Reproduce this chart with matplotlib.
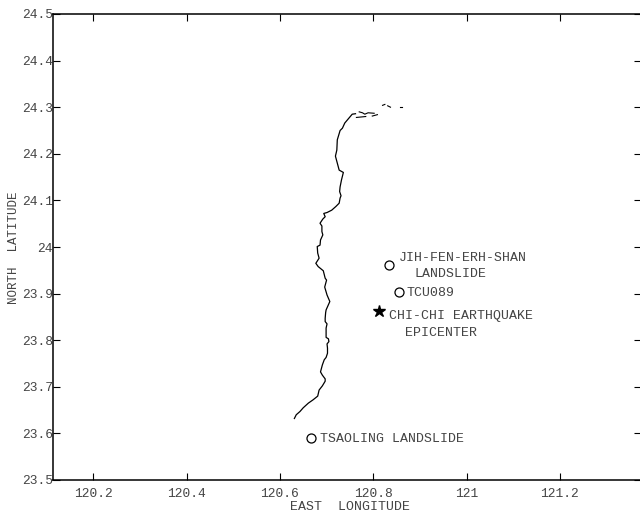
import matplotlib
matplotlib.use("Agg")
import matplotlib.pyplot as plt

# coastline, south to north
coast_lon = [120.631, 120.635, 120.643, 120.650, 120.661, 120.671, 120.681, 120.684, 120.691, 120.697,
             120.697, 120.691, 120.687, 120.691, 120.695, 120.699, 120.702, 120.702, 120.701, 120.705,
             120.704, 120.699, 120.699, 120.699, 120.701, 120.697, 120.697, 120.698, 120.699, 120.707,
             120.701, 120.696, 120.700, 120.697, 120.693, 120.682, 120.677, 120.684, 120.681, 120.680,
             120.686, 120.687, 120.692, 120.690, 120.690, 120.686, 120.692, 120.697, 120.694, 120.701,
             120.711, 120.720, 120.727, 120.729, 120.731, 120.728, 120.729, 120.732, 120.736, 120.727,
             120.723, 120.719, 120.722, 120.723, 120.729, 120.734, 120.739, 120.755, 120.762]
coast_lat = [23.632, 23.640, 23.647, 23.655, 23.665, 23.672, 23.680, 23.693, 23.702, 23.712,
             23.717, 23.725, 23.732, 23.747, 23.758, 23.763, 23.772, 23.783, 23.792, 23.797,
             23.803, 23.806, 23.811, 23.826, 23.835, 23.840, 23.847, 23.859, 23.865, 23.883,
             23.897, 23.914, 23.929, 23.933, 23.949, 23.958, 23.965, 23.976, 23.987, 24.001,
             24.004, 24.015, 24.026, 24.033, 24.045, 24.051, 24.060, 24.065, 24.072, 24.074,
             24.079, 24.087, 24.094, 24.105, 24.110, 24.119, 24.129, 24.144, 24.160, 24.165,
             24.180, 24.195, 24.208, 24.230, 24.250, 24.255, 24.266, 24.285, 24.286]

# bits of coast and islands at the north end
pieces_lon = [[120.770, 120.777, 120.782, 120.789, 120.802], [120.764, 120.784], [120.798, 120.809],
              [120.820, 120.825], [120.831, 120.837], [120.857, 120.861]]
pieces_lat = [[24.290, 24.288, 24.285, 24.288, 24.287], [24.278, 24.280], [24.281, 24.284],
              [24.304, 24.306], [24.303, 24.300], [24.300, 24.300]]

site_lon = [120.833, 120.856, 120.667]
site_lat = [23.961, 23.903, 23.590]
epicenter_lon = 120.813
epicenter_lat = 23.862

xticks = [120.2, 120.4, 120.6, 120.8, 121.0, 121.2]
xticklabels = ["120.2", "120.4", "120.6", "120.8", "121", "121.2"]
yticks = [23.5, 23.6, 23.7, 23.8, 23.9, 24.0, 24.1, 24.2, 24.3, 24.4, 24.5]
yticklabels = ["23.5", "23.6", "23.7", "23.8", "23.9", "24", "24.1", "24.2", "24.3", "24.4", "24.5"]

plt.rcParams["font.family"] = ["Liberation Mono", "DejaVu Sans"]
plt.rcParams["font.size"] = 9.3
text_color = "#444444"

fig = plt.figure(figsize=(6.4, 5.14), dpi=100)
ax = fig.add_axes([53 / 640, 1 - 480 / 514, 588 / 640, 466 / 514])

ax.plot(coast_lon, coast_lat, color="black", lw=0.9)
for lon, lat in zip(pieces_lon, pieces_lat):
    ax.plot(lon, lat, color="black", lw=0.8)

ax.plot(site_lon, site_lat, "o", mfc="white", mec="black", mew=0.9, ms=6.5, ls="none")
ax.plot(epicenter_lon, epicenter_lat, "*", color="black", ms=9, ls="none")

ax.text(120.8545, 23.977, "JIH-FEN-ERH-SHAN", color=text_color, va="center", fontsize=9.5)
ax.text(120.8885, 23.943, "LANDSLIDE", color=text_color, va="center", fontsize=9.5)
ax.text(120.8715, 23.902, "TCU089", color=text_color, va="center", fontsize=9.5)
ax.text(120.8345, 23.853, "CHI-CHI EARTHQUAKE", color=text_color, va="center", fontsize=9.5)
ax.text(120.8685, 23.8165, "EPICENTER", color=text_color, va="center", fontsize=9.5)
ax.text(120.6855, 23.5875, "TSAOLING LANDSLIDE", color=text_color, va="center", fontsize=9.5)

ax.set_xlim(120.1136, 121.374)
ax.set_ylim(23.5, 24.5)
ax.set_xticks(xticks)
ax.set_xticklabels(xticklabels)
ax.set_yticks(yticks)
ax.set_yticklabels(yticklabels)
ax.tick_params(direction="in", top=True, right=True, length=5, width=0.8, labelcolor=text_color)
ax.tick_params(axis="x", pad=6)
ax.tick_params(axis="y", pad=0)
for s in ax.spines.values():
    s.set_linewidth(1.1)

fig.text(350 / 640, 1 - 507 / 514, "EAST  LONGITUDE", color=text_color, ha="center", va="center", fontsize=9.5)
fig.text(14 / 640, 1 - 248 / 514, "NORTH  LATITUDE", color=text_color, ha="center", va="center", rotation=90, fontsize=9)

fig.savefig("out.png", dpi=100)
